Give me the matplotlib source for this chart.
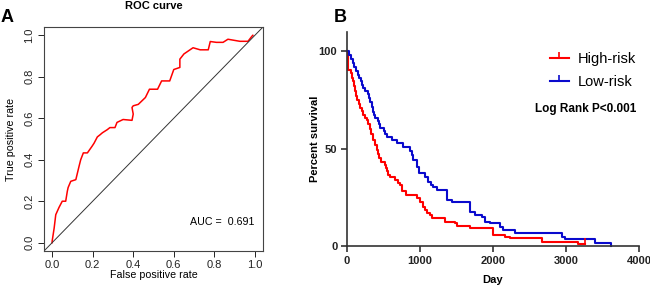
import matplotlib
matplotlib.use("Agg")
import matplotlib.pyplot as plt
from matplotlib.lines import Line2D

plt.rcParams['font.family'] = ['Liberation Sans', 'DejaVu Sans']

# ---- Panel A: ROC curve data ----
fpr = [0.0, 0.0, 0.01, 0.018, 0.034, 0.05, 0.067, 0.075, 0.079, 0.092, 0.117, 0.133,
       0.141, 0.154, 0.174, 0.197, 0.207, 0.223, 0.236, 0.248, 0.272, 0.285, 0.31, 0.32,
       0.35, 0.394, 0.40, 0.394, 0.40, 0.425, 0.46, 0.48, 0.52, 0.54, 0.58, 0.60, 0.63,
       0.63, 0.65, 0.695, 0.73, 0.77, 0.78, 0.81, 0.843, 0.867, 0.926, 0.966, 0.985, 0.99]
tpr = [0.0, 0.006, 0.07, 0.135, 0.17, 0.2, 0.2, 0.248, 0.266, 0.296, 0.304, 0.369,
       0.40, 0.433, 0.433, 0.465, 0.48, 0.51, 0.52, 0.53, 0.545, 0.555, 0.555, 0.58,
       0.594, 0.59, 0.62, 0.652, 0.66, 0.667, 0.70, 0.74, 0.74, 0.78, 0.78, 0.835, 0.845,
       0.885, 0.91, 0.94, 0.93, 0.93, 0.97, 0.966, 0.966, 0.981, 0.971, 0.971, 0.995, 1.0]
auc_text = "AUC =  0.691"
roc_ticks = [0.0, 0.2, 0.4, 0.6, 0.8, 1.0]

# ---- Panel B: Kaplan-Meier data ----
high_t = [0, 10, 20, 50, 64, 86, 100, 115, 125, 135, 160, 178, 200, 223, 250, 270, 290,
          315, 335, 360, 380, 405, 420, 440, 460, 520, 530, 545, 565, 590, 655, 700, 725,
          760, 815, 960, 1000, 1045, 1070, 1100, 1135, 1160, 1340, 1480, 1500, 1685, 2000,
          2165, 2230, 2665, 3170, 3260]
high_s = [100, 93, 90.5, 89, 86.3, 84.6, 82, 79.5, 77, 75, 73, 71, 69.5, 67.5, 66, 65, 62.5,
          60, 57.5, 54.6, 52, 49.4, 47.5, 45, 43.4, 41.7, 40, 38.3, 36.5, 35.7, 34, 32.5, 31.4,
          28.5, 26, 24.5, 22.5, 20.3, 18.5, 17, 16, 14.3, 12.5, 11.7, 10.3, 9.1, 5.7,
          4.8, 4.0, 2.2, 1.0, 1.0]
low_t = [0, 30, 55, 80, 100, 120, 150, 165, 185, 200, 225, 240, 290, 300, 315, 340, 360,
         375, 385, 430, 440, 450, 500, 520, 545, 610, 680, 770, 860, 885, 910, 955, 980,
         1070, 1115, 1150, 1180, 1230, 1365, 1435, 1685, 1750, 1845, 1890, 1960, 2095, 2140,
         2300, 2950, 2985, 3400, 3610]
low_s = [100, 98, 96, 94, 92, 90, 88, 86.5, 85, 83, 81, 79.5, 78, 76, 74, 71.5, 69,
         67.5, 66, 64, 62.5, 60.6, 59, 57.5, 56, 54.6, 53, 51, 48.6, 47, 44.3, 40.8, 37.4,
         35.7, 33, 31.5, 30.5, 28.8, 23.7, 22.8, 17.7, 16, 15, 12.5, 11.7, 10, 8.2,
         6.5, 4.8, 3.4, 1.7, 0]
km_xticks = [0, 1000, 2000, 3000, 4000]
km_yticks = [0, 50, 100]
series_labels = ["High-risk", "Low-risk"]
pval_text = "Log Rank P<0.001"

RED = '#FF0000'
BLUE = '#0A0ACD'

fig = plt.figure(figsize=(6.5, 2.87), dpi=100)

# ---------------- Panel A ----------------
axA = fig.add_axes([44/650, 1-251/287, 219/650, 224/287])
axA.plot(fpr, tpr, color=RED, lw=1.1)
axA.axline((0, 0), (1, 1), color='#333333', lw=0.7)
axA.set_xlim(-0.04, 1.04)
axA.set_ylim(-0.04, 1.04)
axA.set_xticks(roc_ticks)
axA.set_yticks(roc_ticks)
axA.set_xticklabels([f"{v:.1f}" for v in roc_ticks])
axA.set_yticklabels([f"{v:.1f}" for v in roc_ticks], rotation=90, va='center')
axA.tick_params(direction='out', length=4, width=0.7, labelsize=8, pad=2.5, colors='#222222')
axA.tick_params(axis='y', pad=3)
for s in axA.spines.values():
    s.set_linewidth(0.8)
    s.set_color('#444444')
axA.set_xlabel("False positive rate", fontsize=7.7, labelpad=0)
axA.set_ylabel("True positive rate", fontsize=7.7, labelpad=6)
axA.set_title("ROC curve", fontsize=8, fontweight='bold', pad=13)
axA.text(0.68, 0.10, auc_text, fontsize=7.7, ha='left', va='center')

# ---------------- Panel B ----------------
axB = fig.add_axes([347/650, 1-246/287, 292/650, 214/287])
axB.step(high_t, high_s, where='post', color=RED, lw=1.5, clip_on=False)
axB.step(low_t, low_s, where='post', color=BLUE, lw=1.5, clip_on=False)
axB.plot([high_t[-1]], [high_s[-1]], marker=2, ms=4, mew=1.2, color=RED, ls='none', clip_on=False)
axB.set_xlim(0, 4000)
axB.set_ylim(0, 110)
axB.set_xticks(km_xticks)
axB.set_yticks(km_yticks)
for s in ['top', 'right']:
    axB.spines[s].set_visible(False)
for s in ['left', 'bottom']:
    axB.spines[s].set_linewidth(1.2)
    axB.spines[s].set_color('#333333')
axB.tick_params(direction='out', length=4, width=1.1, labelsize=8, pad=3, colors='#222222')
for lab in axB.get_xticklabels() + axB.get_yticklabels():
    lab.set_fontweight('bold')
axB.set_xlabel("Day", fontsize=8, fontweight='bold', labelpad=7)
axB.set_ylabel("Percent survival", fontsize=8, fontweight='bold', labelpad=-1)

handles = [Line2D([], [], color=RED, lw=1.5, marker=2, ms=4, mew=1.2),
           Line2D([], [], color=BLUE, lw=1.5, marker=2, ms=4, mew=1.2)]
axB.legend(handles, series_labels, loc='upper left', bbox_to_anchor=(0.695, 0.905),
           frameon=False, fontsize=10.5, handlelength=1.3, handletextpad=0.6,
           labelspacing=0.6, borderpad=0, borderaxespad=0)
axB.text(0.645, 0.64, pval_text, transform=axB.transAxes, fontsize=8.5,
         fontweight='bold', ha='left', va='center')

# Panel letters
fig.text(1/650, 1-18/287, "A", fontsize=13, fontweight='bold', ha='left', va='center')
fig.text(334/650, 1-18/287, "B", fontsize=13, fontweight='bold', ha='left', va='center')

fig.savefig("out.png", dpi=100)
